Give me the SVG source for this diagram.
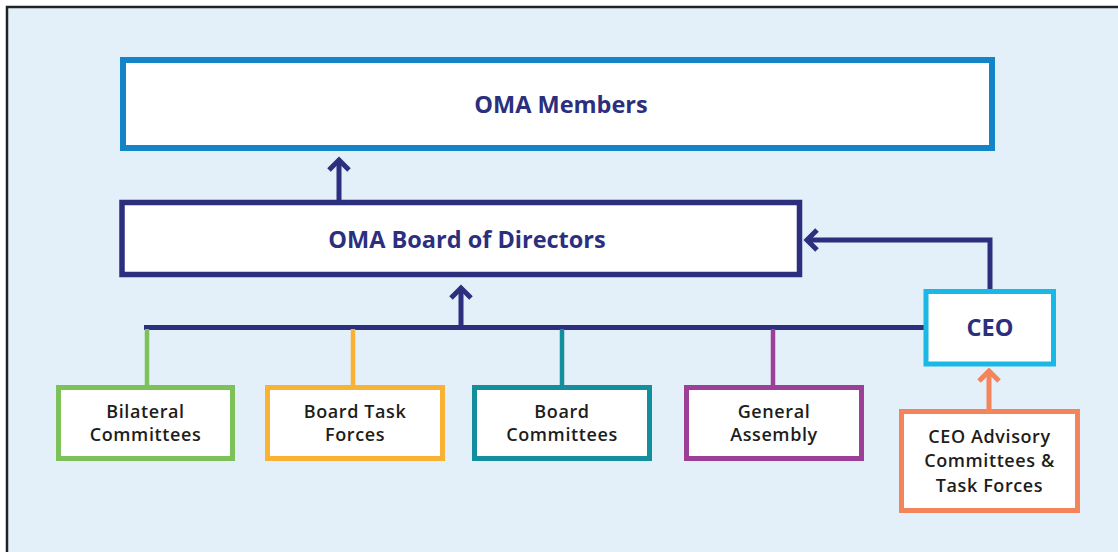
<svg xmlns="http://www.w3.org/2000/svg" width="1118" height="552" viewBox="0 0 1118 552">
  <style>
    .box { fill: #ffffff; }
    .title { font-family: "Open Sans", "Liberation Sans", sans-serif; font-weight: 700; font-size: 23.5px; fill: #2b2f7e; text-anchor: middle; }
    .label { font-family: "Open Sans", "Liberation Sans", sans-serif; font-weight: 600; font-size: 18px; letter-spacing: 0.6px; fill: #1d1d1b; text-anchor: middle; }
    .navy { stroke: #2b2f7e; stroke-width: 5; fill: none; }
  </style>
  <defs>
    <marker id="headNavy" markerUnits="userSpaceOnUse" markerWidth="30" markerHeight="30" viewBox="-15 -15 30 30" refX="0" refY="0" orient="auto" overflow="visible">
      <path d="M-10,-10 L0,0 L-10,10" fill="none" stroke="#2b2f7e" stroke-width="5"/>
    </marker>
    <marker id="headOrange" markerUnits="userSpaceOnUse" markerWidth="30" markerHeight="30" viewBox="-15 -15 30 30" refX="0" refY="0" orient="auto" overflow="visible">
      <path d="M-10,-10 L0,0 L-10,10" fill="none" stroke="#f4845a" stroke-width="5"/>
    </marker>
  </defs>

  <!-- canvas -->
  <rect x="0" y="0" width="1118" height="552" fill="#ffffff"/>
  <rect x="7" y="7" width="1120" height="560" fill="#e3f0fa" stroke="#222222" stroke-width="2.5"/>

  <!-- connectors -->
  <g id="connectors">
    <line class="navy" x1="339" y1="200" x2="339" y2="160" marker-end="url(#headNavy)"/>
    <line class="navy" x1="461" y1="327.5" x2="461" y2="288" marker-end="url(#headNavy)"/>
    <line class="navy" x1="144" y1="327.5" x2="926" y2="327.5"/>
    <polyline class="navy" points="990,290 990,240 807,240" marker-end="url(#headNavy)"/>
    <line x1="147" y1="329" x2="147" y2="386" stroke="#7dc259" stroke-width="4.5"/>
    <line x1="353" y1="329" x2="353" y2="386" stroke="#f9b233" stroke-width="4.5"/>
    <line x1="562" y1="329" x2="562" y2="386" stroke="#138e9c" stroke-width="4.5"/>
    <line x1="773" y1="329" x2="773" y2="386" stroke="#9b3f97" stroke-width="4.5"/>
    <line x1="989" y1="410" x2="989" y2="371" stroke="#f4845a" stroke-width="5" marker-end="url(#headOrange)"/>
  </g>

  <g id="oma-members">
    <rect class="box" x="123" y="60" width="869" height="88" stroke="#1484c8" stroke-width="6"/>
    <text class="title" x="561" y="113">OMA Members</text>
  </g>

  <g id="board-of-directors">
    <rect class="box" x="122" y="202.5" width="677.5" height="72" stroke="#2b2f7e" stroke-width="5.5"/>
    <text class="title" x="467" y="248">OMA Board of Directors</text>
  </g>

  <g id="ceo">
    <rect class="box" x="926" y="291.5" width="127.5" height="72.5" stroke="#1ab8e4" stroke-width="5"/>
    <text class="title" x="990" y="336">CEO</text>
  </g>

  <g id="bilateral-committees">
    <rect class="box" x="58.5" y="387.5" width="174" height="71" stroke="#7dc259" stroke-width="5"/>
    <text class="label" x="145.5" y="418">Bilateral</text>
    <text class="label" x="145.5" y="441">Committees</text>
  </g>

  <g id="board-task-forces">
    <rect class="box" x="267.5" y="387.5" width="175" height="71" stroke="#f9b233" stroke-width="5"/>
    <text class="label" x="355" y="418">Board Task</text>
    <text class="label" x="355" y="441">Forces</text>
  </g>

  <g id="board-committees">
    <rect class="box" x="474.5" y="387.5" width="175" height="71" stroke="#138e9c" stroke-width="5"/>
    <text class="label" x="562" y="418">Board</text>
    <text class="label" x="562" y="441">Committees</text>
  </g>

  <g id="general-assembly">
    <rect class="box" x="686.5" y="387.5" width="175" height="71" stroke="#9b3f97" stroke-width="5"/>
    <text class="label" x="774" y="418">General</text>
    <text class="label" x="774" y="441">Assembly</text>
  </g>

  <g id="ceo-advisory">
    <rect class="box" x="901.5" y="411.5" width="176" height="99" stroke="#f4845a" stroke-width="5"/>
    <text class="label" x="989.5" y="443">CEO Advisory</text>
    <text class="label" x="989.5" y="467">Committees &amp;</text>
    <text class="label" x="989.5" y="492">Task Forces</text>
  </g>
</svg>
